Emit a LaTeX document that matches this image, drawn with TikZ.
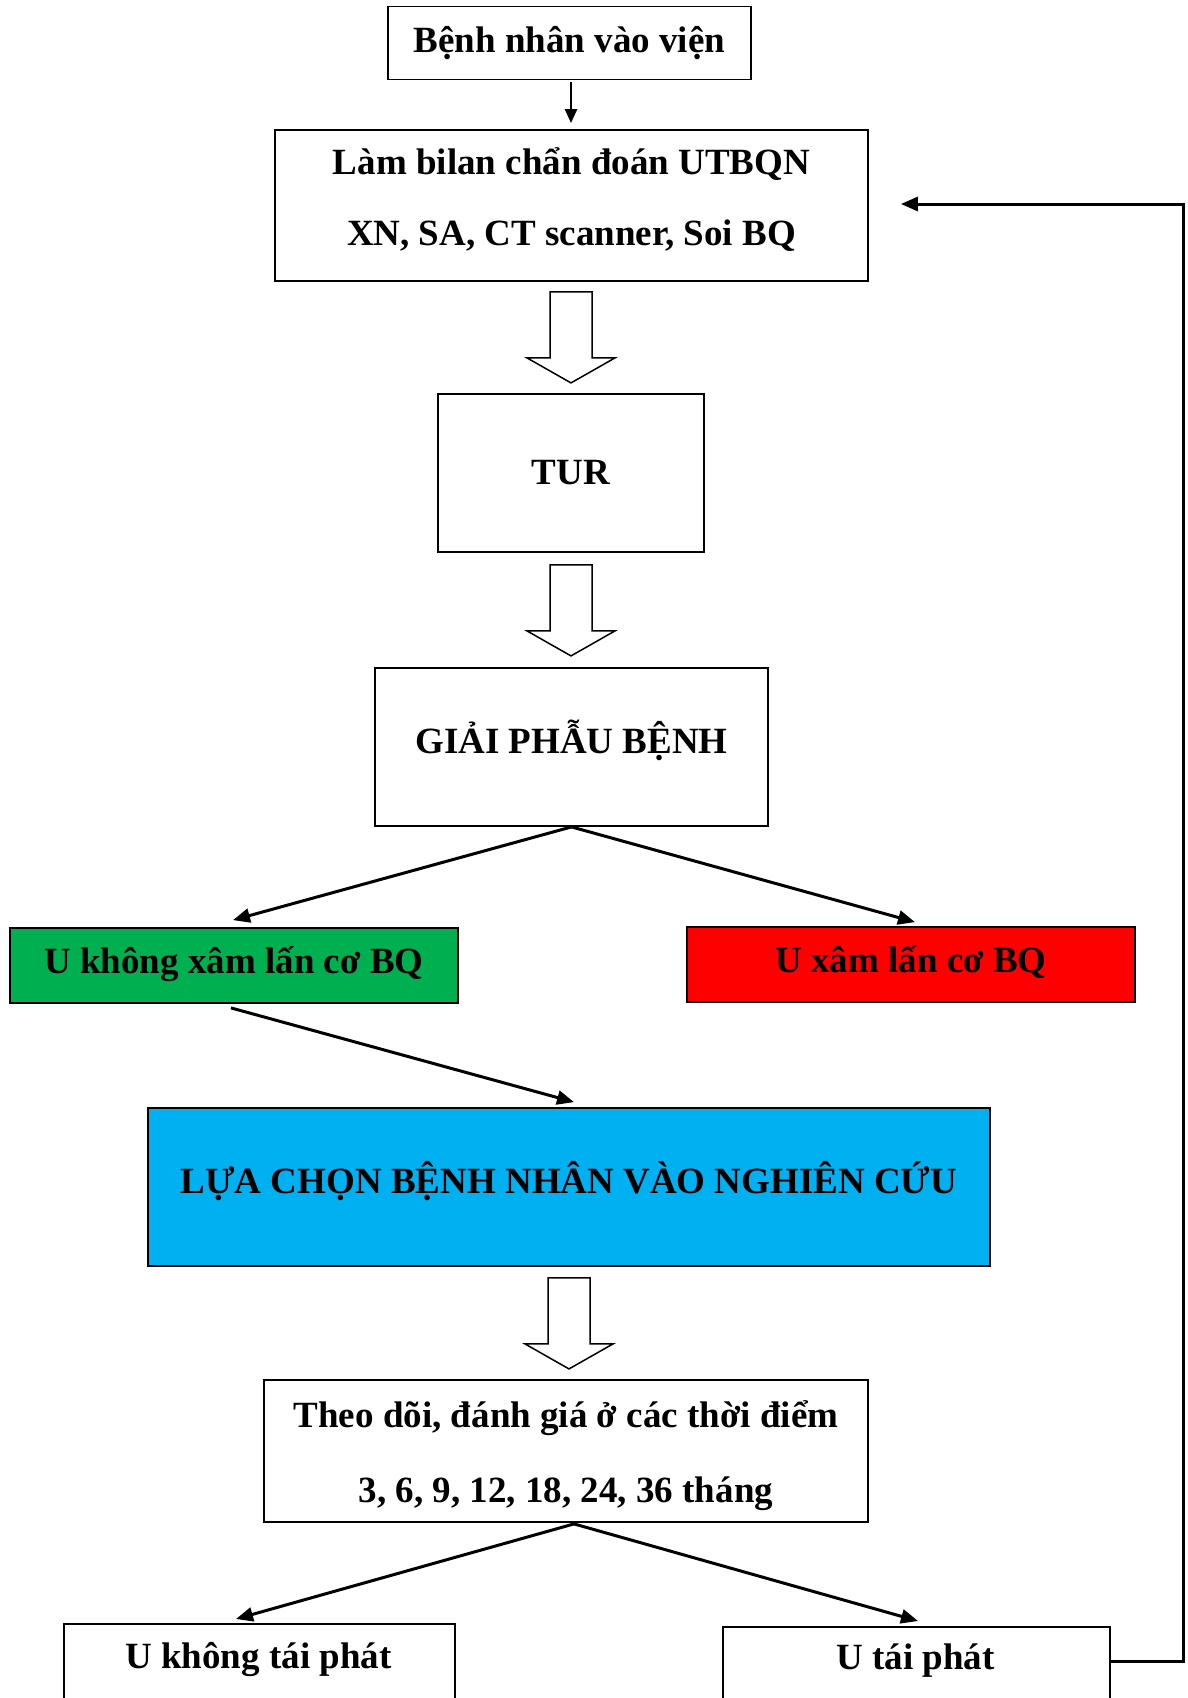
\documentclass[tikz,border=0pt]{standalone}
\usepackage{fontspec}
\setmainfont{Liberation Serif}
\usetikzlibrary{arrows.meta,calc}
\definecolor{cgreen}{HTML}{00B050}
\definecolor{cred}{HTML}{FF0000}
\definecolor{cblue}{HTML}{00B0F0}
\newcommand{\blockarr}[1]{%
  \draw[blockarrow] ($(#1)+(-21,0)$) -- ($(#1)+(21,0)$) -- ($(#1)+(21,66)$) -- ($(#1)+(44,66)$) -- ($(#1)+(0,91)$) -- ($(#1)+(-44,66)$) -- ($(#1)+(-21,66)$) -- cycle;}
\begin{document}
\begin{tikzpicture}[x=1pt,y=-1pt,
  box/.style={draw, line width=1.8pt, inner sep=0pt},
  txt/.style={inner sep=0pt, align=center, font=\fontsize{37}{44}\selectfont\bfseries},
  conn/.style={line width=3pt, -{Triangle[length=17pt,width=14pt]}},
  blockarrow/.style={draw, line width=1.5pt, fill=white, line join=miter}]
\useasboundingbox (0,0) rectangle (1187,1698);
\fill[white] (0,0) rectangle (1187,1698);

% boxes
\node[box, minimum width=363pt, minimum height=73pt] (b1) at (569.5,43) {};
\node[box, minimum width=593pt, minimum height=151pt] (b2) at (571.5,205.5) {};
\node[box, minimum width=266pt, minimum height=158pt] (tur) at (571,473) {};
\node[box, minimum width=393pt, minimum height=158pt] (gpb) at (571.5,747) {};
\node[box, fill=cgreen, minimum width=448pt, minimum height=75pt] (green) at (234,965.5) {};
\node[box, fill=cred, minimum width=448pt, minimum height=75pt] (red) at (911,964.5) {};
\node[box, fill=cblue, minimum width=842pt, minimum height=158pt] (blue) at (569,1187) {};
\node[box, minimum width=604pt, minimum height=142pt] (theo) at (566,1451) {};
\node[box, anchor=north west, minimum width=391pt, minimum height=110pt] (blbox) at (63,1623) {};
\node[box, anchor=north west, minimum width=387pt, minimum height=110pt] (brbox) at (722,1626) {};

% texts
\node[txt] (b1t) at (b1) {Bệnh nhân vào viện};
\node[txt, font=\fontsize{37}{71}\selectfont\bfseries] (b2t) at ($(b2)+(0,-5.5)$) {Làm bilan chẩn đoán UTBQN\\XN, SA, CT scanner, Soi BQ};
\node[txt] (turt) at (tur) {TUR};
\node[txt] (gpbt) at ($(gpb)+(0,-6.5)$) {GIẢI PHẪU BỆNH};
\node[txt] (greent) at ($(green)+(0,-1)$) {U không xâm lấn cơ BQ};
\node[txt] (redt) at ($(red)+(0,-2)$) {U xâm lấn cơ BQ};
\node[txt] (bluet) at ($(blue)+(0,-5.5)$) {LỰA CHỌN BỆNH NHÂN VÀO NGHIÊN CỨU};
\node[txt, font=\fontsize{37}{75}\selectfont\bfseries] (theot) at ($(theo)+(0,4.5)$) {Theo dõi, đánh giá ở các thời điểm\\3, 6, 9, 12, 18, 24, 36 tháng};
\node[txt] (blt) at (258.5,1660) {U không tái phát};
\node[txt] (brt) at (915.5,1661) {U tái phát};

% connectors
\draw[line width=2.5pt, -{Triangle[length=14pt,width=12pt]}, shorten >=6pt] ($(b1.south)+(1.5,2)$) -- ($(b2.north)+(-0.5,0)$);

\coordinate (ba1) at ($(b2.south)+(-0.5,10)$);
\coordinate (ba2) at ($(tur.south)+(0,12)$);
\coordinate (ba3) at ($(blue.south)+(0,11)$);
\blockarr{ba1}
\blockarr{ba2}
\blockarr{ba3}

\coordinate (g1) at ($(green.north)+(-1,-7)$);
\coordinate (r1) at ($(red.north)+(4,-4)$);
\draw[conn] (gpb.south) -- (g1);
\draw[conn] (gpb.south) -- (r1);
\draw[conn] ($(green.south)+(-3,4)$) -- ($(blue.north)+(5,-5)$);
\coordinate (t0) at ($(theo.south)+(8,1)$);
\draw[conn] (t0) -- ($(blbox.north west)+(173,-4)$);
\draw[conn] (t0) -- ($(brbox.north west)+(196,-5)$);

\coordinate (fb) at ($(b2.east)+(32,-1.5)$);
\draw[conn] (brt -| brbox.east) -- (1183,1661) |- (fb);
\end{tikzpicture}
\end{document}
